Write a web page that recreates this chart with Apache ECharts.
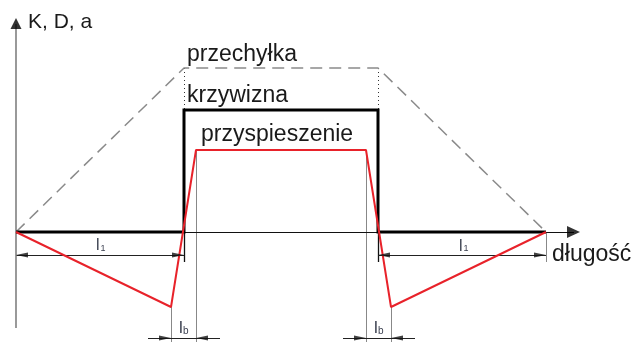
<!DOCTYPE html>
<html><head><meta charset="utf-8">
<script src="https://cdn.jsdelivr.net/npm/echarts@6/dist/echarts.min.js"></script>
<style>html,body{margin:0;padding:0;background:#fff}#c{width:634px;height:342px}</style>
</head><body><div id="c"></div>
<script>
// ---- data (x: length units, y: value units; origin at start of transition) ----
const cantX = [0, 168, 362, 530];          // przechyłka (cant) - dashed
const cantY = [0, 164, 164, 0];
const curvX = [0, 168, 168, 362, 362, 530]; // krzywizna (curvature) - black step
const curvY = [0, 0, 122, 122, 0, 0];
const accX  = [0, 155, 180, 350, 375, 530]; // przyspieszenie (acceleration) - red
const accY  = [0, -75, 82, 82, -75, 0];
const l1Spans = [[0, 168], [362, 530]];     // l1 dimension spans
const lbSpans = [[155, 180], [350, 375]];   // lb dimension spans
const l1Level = -23, lbLevel = -106;
const axisXEnd = 564, axisYTop = 214, axisYBottom = -96;
const labelsTop = ['K, D, a', 'przechyłka', 'krzywizna', 'przyspieszenie', 'długość'];

const pts = (xs, ys) => xs.map((x, i) => [x, ys[i]]);
const seg = (x1, y1, x2, y2) => ({coords: [[x1, y1], [x2, y2]]});
const FONT = '"Liberation Sans", Arial, sans-serif';

// extension / helper lines
const grayExt = [
  seg(accX[1], accY[1], accX[1], -110),
  seg(accX[2], accY[2], accX[2], -110),
  seg(accX[3], accY[3], accX[3], -110),
  seg(accX[4], accY[4], accX[4], -110),
  seg(curvX[5], 0, curvX[5], l1Level - 7)
];
const blackExt = [
  seg(curvX[1], 0, curvX[1], l1Level - 7),
  seg(curvX[3], 0, curvX[3], l1Level - 7)
];
const dimLines = [];
l1Spans.forEach(s => dimLines.push(seg(s[0], l1Level, s[1], l1Level)));
lbSpans.forEach(s => dimLines.push(seg(s[0] - 23, lbLevel, s[1] + 24, lbLevel)));
const dotted = [seg(cantX[1], cantY[1], curvX[2], curvY[2]), seg(cantX[2], cantY[2], curvX[3], curvY[3])];

const rightTips = [], leftTips = [];
l1Spans.forEach(s => { leftTips.push([s[0], l1Level]); rightTips.push([s[1], l1Level]); });
lbSpans.forEach(s => { rightTips.push([s[0], lbLevel]); leftTips.push([s[1], lbLevel]); });

const chart = echarts.init(document.getElementById('c'), null, {renderer: 'canvas'});
const txt = (t, x, y, size, color) => ({
  type: 'text', x: x, y: y, silent: true,
  style: {text: t, font: size + 'px ' + FONT, fill: color || '#1a1a1a', verticalAlign: 'middle', align: 'left'}
});

chart.setOption({
  animation: false,
  backgroundColor: '#fff',
  grid: {left: 0, right: 0, top: 0, bottom: 0},
  xAxis: {type: 'value', min: -16, max: 618, show: false},
  yAxis: {type: 'value', min: -110, max: 232, show: false},
  series: [
    {type: 'lines', coordinateSystem: 'cartesian2d', silent: true, z: 1,
     lineStyle: {color: '#888', width: 1, opacity: 1}, data: grayExt},
    {type: 'lines', coordinateSystem: 'cartesian2d', silent: true, z: 1,
     lineStyle: {color: '#111', width: 1.3, opacity: 1}, data: blackExt},
    {type: 'lines', coordinateSystem: 'cartesian2d', silent: true, z: 1,
     lineStyle: {color: '#222', width: 1, opacity: 1}, data: dimLines},
    {type: 'lines', coordinateSystem: 'cartesian2d', silent: true, z: 1,
     lineStyle: {color: '#333', width: 1, type: [1, 3], opacity: 1}, data: dotted},
    // axes
    {type: 'lines', coordinateSystem: 'cartesian2d', silent: true, z: 1,
     lineStyle: {color: '#111', width: 1, opacity: 1}, data: [seg(0, 0, axisXEnd - 6, 0)]},
    {type: 'lines', coordinateSystem: 'cartesian2d', silent: true, z: 1,
     lineStyle: {color: '#808080', width: 1.6, opacity: 1}, data: [seg(0, axisYBottom, 0, axisYTop - 6)]},
    {type: 'line', name: 'przechyłka', data: pts(cantX, cantY), showSymbol: false, silent: true, z: 2,
     lineStyle: {color: '#8a8a8a', width: 1.5, type: [12, 7]}},
    {type: 'line', name: 'krzywizna', data: pts(curvX, curvY), showSymbol: false, silent: true, z: 3,
     lineStyle: {color: '#000', width: 3, join: 'miter'}},
    {type: 'line', name: 'przyspieszenie', data: pts(accX, accY), showSymbol: false, silent: true, z: 4,
     lineStyle: {color: '#e8222a', width: 2}},
    {type: 'scatter', silent: true, z: 5, clip: false, data: rightTips,
     symbol: 'path://M0,0L12,3L0,6Z', symbolSize: [12, 5], symbolOffset: [-6, 0], itemStyle: {color: '#111'}},
    {type: 'scatter', silent: true, z: 5, clip: false, data: leftTips,
     symbol: 'path://M12,0L0,3L12,6Z', symbolSize: [12, 5], symbolOffset: [6, 0], itemStyle: {color: '#111'}},
    {type: 'scatter', silent: true, z: 5, clip: false, data: [[axisXEnd, 0]],
     symbol: 'path://M0,0L12,6L0,12Z', symbolSize: [13, 12], symbolOffset: [-6.5, 0], itemStyle: {color: '#000'}},
    {type: 'scatter', silent: true, z: 5, clip: false, data: [[0, axisYTop]],
     symbol: 'path://M0,12L6,0L12,12Z', symbolSize: [11, 11], symbolOffset: [0, 5.5], itemStyle: {color: '#000'}}
  ],
  graphic: [
    txt(labelsTop[0], 28, 22.5, 21),
    txt(labelsTop[1], 187, 55, 23),
    txt(labelsTop[2], 187, 96, 23),
    txt(labelsTop[3], 201, 135, 23),
    txt(labelsTop[4], 552, 255, 23),
    txt('l', 96, 246, 16, '#3a3f4f'), txt('1', 100.5, 248.3, 9, '#3a3f4f'),
    txt('l', 459, 246.5, 16, '#3a3f4f'), txt('1', 463.5, 248.8, 9, '#3a3f4f'),
    txt('l', 179, 328.5, 17, '#3a3f4f'), txt('b', 183, 331, 10, '#3a3f4f'),
    txt('l', 374, 328.5, 17, '#3a3f4f'), txt('b', 378, 331, 10, '#3a3f4f')
  ]
});
</script>
</body></html>
